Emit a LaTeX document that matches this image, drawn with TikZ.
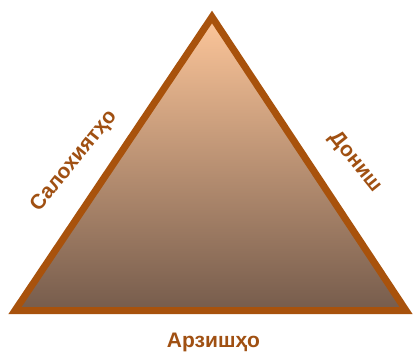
\documentclass[tikz,border=0pt]{standalone}
\usepackage{fontspec}
\setmainfont{Liberation Sans}
\definecolor{edgebrown}{RGB}{168,82,12}
\definecolor{textbrown}{RGB}{160,80,18}
\definecolor{toppeach}{RGB}{253,198,154}
\definecolor{bottombrown}{RGB}{118,92,76}
\begin{document}
\begin{tikzpicture}[x=1pt,y=1pt,
  sidelabel/.style={text=textbrown,font=\bfseries\fontsize{21}{24}\selectfont,inner sep=0pt}]
\useasboundingbox (0,0) rectangle (414,351);
\fill[white] (0,0) rectangle (414,351);
\shade[top color=toppeach,bottom color=bottombrown] (15,40.5) -- (212,334) -- (406,40.5) -- cycle;
\draw[edgebrown,line width=7pt,line join=miter] (15,40.5) -- (212,334) -- (406,40.5) -- cycle;
\node[sidelabel,rotate=51] (left) at (74,190) {Салохиятҳо};
\node[sidelabel,rotate=-51] (right) at (355,189) {Дониш};
\node[sidelabel,anchor=base] (bottom) at (213.5,4) {Арзишҳо};
\end{tikzpicture}
\end{document}
